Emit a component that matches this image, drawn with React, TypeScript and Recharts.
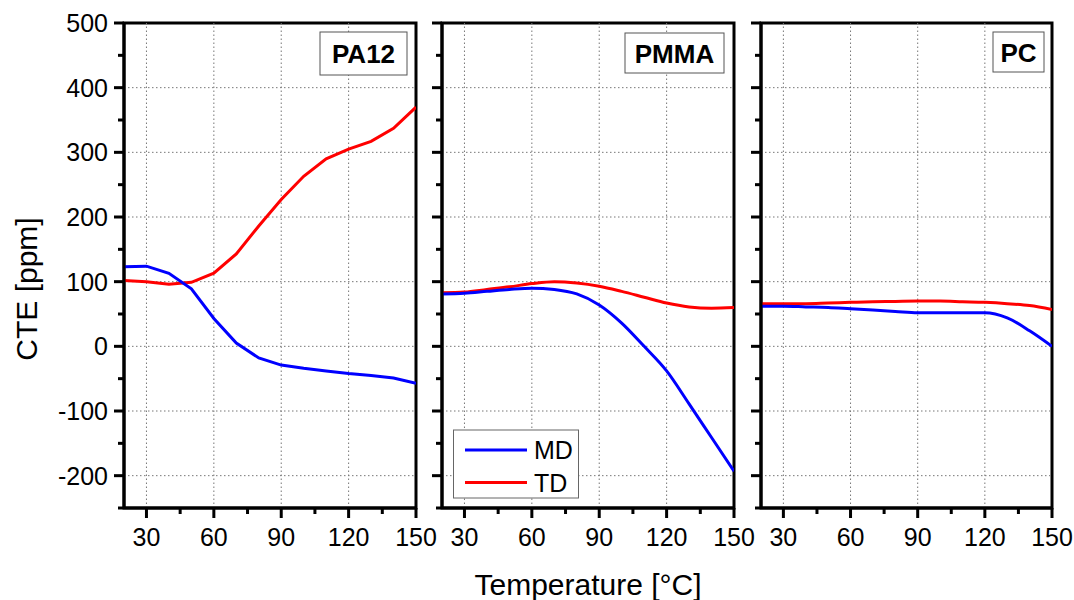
import React from 'react';
import { LineChart, Line, XAxis, YAxis, ReferenceLine, ReferenceArea } from 'recharts';

const temperatures = [20, 30, 40, 50, 60, 70, 80, 90, 100, 110, 120, 130, 140, 150];

const pa12MD = [123, 124, 113, 89, 43, 5, -18, -29, -34, -38, -42, -45, -49, -57];
const pa12TD = [102, 100, 96, 99, 113, 143, 186, 227, 263, 290, 305, 317, 337, 370];

const pmmaMD = [81, 82, 85, 88, 90, 88, 81, 64, 36, 0, -38, -89, -141, -193];
const pmmaTD = [83, 84, 88, 92, 97, 100, 98, 93, 85, 76, 67, 61, 59, 60];

const pcMD = [62, 62, 61, 60, 58, 56, 54, 52, 52, 52, 52, 44, 24, 0];
const pcTD = [66, 66, 66, 67, 68, 69, 69.5, 70, 70, 69, 68, 66, 63, 57];

const yTicks = [-250, -200, -150, -100, -50, 0, 50, 100, 150, 200, 250, 300, 350, 400, 450, 500];
const xTicks = [30, 45, 60, 75, 90, 105, 120, 135, 150];
const gridY = [-200, -100, 0, 100, 200, 300, 400];
const gridX = [30, 60, 90, 120];

const FONT = '"Liberation Sans", Arial, Helvetica, sans-serif';

const buildRows = (md: number[], td: number[]) =>
  temperatures.map((t, i) => ({ t, md: md[i], td: td[i] }));

const makeYTick = (showLabels: boolean) => (props: any) => {
  const { x, y, payload } = props;
  const major = payload.value % 100 === 0;
  const len = major ? 10 : 6;
  return (
    <g>
      <line x1={x - len} x2={x} y1={y} y2={y} stroke="#000" strokeWidth={3} />
      {showLabels && major ? (
        <text x={x - 16} y={y} textAnchor="end" dominantBaseline="central" fontSize={25} fontFamily={FONT} fill="#000">
          {payload.value}
        </text>
      ) : null}
    </g>
  );
};

const XTick = (props: any) => {
  const { x, y, payload } = props;
  const major = payload.value % 30 === 0;
  const len = major ? 10 : 6;
  return (
    <g>
      <line x1={x} x2={x} y1={y} y2={y + len} stroke="#000" strokeWidth={3} />
      {major ? (
        <text x={x} y={y + 38} textAnchor="middle" fontSize={25} fontFamily={FONT} fill="#000">
          {payload.value}
        </text>
      ) : null}
    </g>
  );
};

type PanelProps = {
  left: number;
  width: number;
  axisWidth: number;
  marginRight: number;
  rows: { t: number; md: number; td: number }[];
  curve: 'linear' | 'monotone';
  showLabels: boolean;
};

const Panel = ({ left, width, axisWidth, marginRight, rows, curve, showLabels }: PanelProps) => (
  <div style={{ position: 'absolute', left, top: 0 }}>
    <LineChart
      width={width}
      height={600}
      data={rows}
      margin={{ top: 23, right: marginRight, bottom: 52, left: 0 }}
    >
      {gridY.map((v) => (
        <ReferenceLine key={'gy' + v} y={v} stroke="#777" strokeWidth={1} strokeDasharray="1.5 2.5" />
      ))}
      {gridX.map((v) => (
        <ReferenceLine key={'gx' + v} x={v} stroke="#777" strokeWidth={1} strokeDasharray="1.5 2.5" />
      ))}
      <XAxis
        dataKey="t"
        type="number"
        domain={[20, 150]}
        ticks={xTicks}
        interval={0}
        allowDataOverflow
        height={40}
        tickSize={0}
        tickMargin={0}
        tickLine={false}
        tick={XTick}
        axisLine={{ stroke: '#000', strokeWidth: 3 }}
      />
      <YAxis
        type="number"
        domain={[-250, 500]}
        ticks={yTicks}
        interval={0}
        allowDataOverflow
        width={axisWidth}
        tickSize={0}
        tickMargin={0}
        tickLine={false}
        tick={makeYTick(showLabels)}
        axisLine={{ stroke: '#000', strokeWidth: 3 }}
      />
      <Line
        type={curve}
        dataKey="td"
        stroke="#ff0000"
        strokeWidth={3}
        dot={false}
        activeDot={false}
        isAnimationActive={false}
      />
      <Line
        type={curve}
        dataKey="md"
        stroke="#0000ff"
        strokeWidth={3}
        dot={false}
        activeDot={false}
        isAnimationActive={false}
      />
      <ReferenceArea
        x1={20}
        x2={150}
        y1={-250}
        y2={500}
        fill="none"
        fillOpacity={0}
        stroke="#000"
        strokeWidth={3}
        ifOverflow="visible"
      />
    </LineChart>
  </div>
);

export default function App() {
  return (
    <div
      style={{
        position: 'absolute',
        left: 0,
        top: 0,
        width: 1074,
        height: 600,
        background: '#fff',
        fontFamily: FONT,
        overflow: 'hidden',
      }}
    >
      <Panel left={0} width={440} axisWidth={124} marginRight={24} rows={buildRows(pa12MD, pa12TD)} curve="linear" showLabels />
      <Panel left={420} width={340} axisWidth={22} marginRight={26} rows={buildRows(pmmaMD, pmmaTD)} curve="monotone" showLabels={false} />
      <Panel left={740} width={334} axisWidth={21} marginRight={22} rows={buildRows(pcMD, pcTD)} curve="monotone" showLabels={false} />
      <svg
        width={1074}
        height={600}
        style={{ position: 'absolute', left: 0, top: 0, pointerEvents: 'none' }}
      >
        <text transform="translate(37,289) rotate(-90)" textAnchor="middle" fontSize={30} fontFamily={FONT} fill="#000">
          CTE [ppm]
        </text>
        <text x={588} y={595} textAnchor="middle" fontSize={30} fontFamily={FONT} fill="#000">
          Temperature [°C]
        </text>

        <rect x={320} y={32} width={87} height={43} fill="#fff" stroke="#555" strokeWidth={1} />
        <text x={363.5} y={63} textAnchor="middle" fontSize={26} fontWeight="bold" fontFamily={FONT} fill="#000">
          PA12
        </text>
        <rect x={625} y={33} width={99} height={40} fill="#fff" stroke="#555" strokeWidth={1} />
        <text x={674.5} y={63} textAnchor="middle" fontSize={26} fontWeight="bold" fontFamily={FONT} fill="#000">
          PMMA
        </text>
        <rect x={993} y={32} width={51} height={40} fill="#fff" stroke="#555" strokeWidth={1} />
        <text x={1018.5} y={62} textAnchor="middle" fontSize={26} fontWeight="bold" fontFamily={FONT} fill="#000">
          PC
        </text>

        <rect x={453.5} y={430} width={125} height={68} fill="#fff" stroke="#666" strokeWidth={1} />
        <line x1={465} x2={527} y1={450} y2={450} stroke="#0000ff" strokeWidth={3} />
        <line x1={465} x2={527} y1={482.5} y2={482.5} stroke="#ff0000" strokeWidth={3} />
        <text x={534} y={458.5} fontSize={25} fontFamily={FONT} fill="#000">
          MD
        </text>
        <text x={534} y={492} fontSize={25} fontFamily={FONT} fill="#000">
          TD
        </text>
      </svg>
    </div>
  );
}
